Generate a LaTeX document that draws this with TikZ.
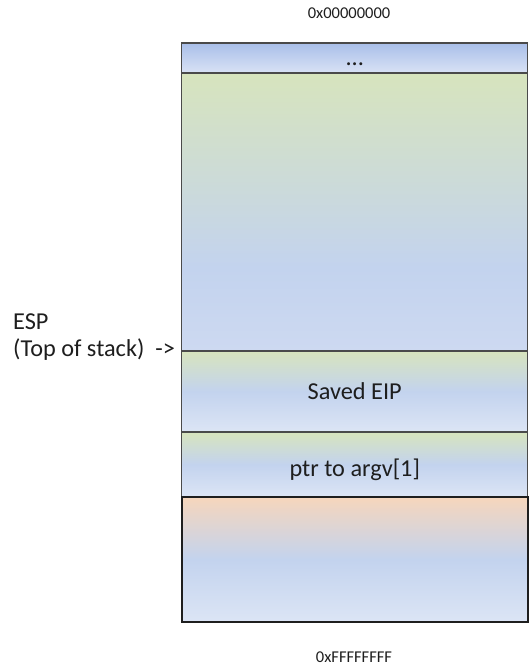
\documentclass[tikz,border=0pt]{standalone}
\usepackage{fontspec}
\setmainfont{Carlito}

\definecolor{cellgreen}{HTML}{D7E4BD}
\definecolor{cellblue}{HTML}{C3D3EE}
\definecolor{celllight}{HTML}{DCE5F5}
\definecolor{framebot}{HTML}{CDD9F1}
\definecolor{topblue}{HTML}{A9BFE9}
\definecolor{toplight}{HTML}{D9E2F5}
\definecolor{peach}{HTML}{F6D6BC}
\definecolor{cellline}{HTML}{4A4A4A}
\definecolor{textgray}{HTML}{1E1E1E}

\pgfdeclareverticalshading{framefade}{100bp}{color(0bp)=(framebot); color(25bp)=(framebot); color(40bp)=(cellblue); color(75bp)=(cellgreen); color(100bp)=(cellgreen)}

\begin{document}
\begin{tikzpicture}[x=1pt, y=-1pt,
		cell/.style={draw=cellline, line width=1.2pt, rectangle, minimum width=346pt, inner sep=0pt, outer sep=0pt, font=\fontsize{24.3}{27}\selectfont, text=textgray, text height=15.5pt, text depth=0pt},
		greencell/.style={cell, top color=cellgreen, bottom color=celllight, middle color=cellblue},
		addr/.style={font=\fontsize{16.5}{18}\selectfont, text=textgray, inner sep=0pt}
		]
		
		% Page frame
		\useasboundingbox (0, 0) rectangle (531, 667);
		
		% Stack cells
		\node[cell, minimum height=30pt, top color=topblue, bottom color=toplight] (dots) at (354.75, 58) {...};
		\node[cell, minimum height=278pt, shading=framefade] (frame) at (354.75, 212) {};
		\node[greencell, minimum height=81pt] (eip) at (354.75, 391.5) {Saved EIP};
		\node[greencell, minimum height=65pt, text height=23pt] (argv) at (354.75, 464.5) {ptr to argv[1]};
		\node[cell, minimum height=125pt, line width=2pt, draw=textgray, top color=peach, bottom color=celllight, middle color=cellblue] (below) at (354.75, 559.5) {};
		
		% Addresses
		\node[addr] (low) at (349, 13) {0x00000000};
		\node[addr] (high) at (354, 657) {0xFFFFFFFF};
		
		% Stack pointer
		\node[font=\fontsize{24.3}{27}\selectfont, text=textgray, align=left, anchor=west, inner sep=0pt] (esp) at (13, 337) {ESP\\(Top of stack)\ \ ->};
		
	\end{tikzpicture}
\end{document}
